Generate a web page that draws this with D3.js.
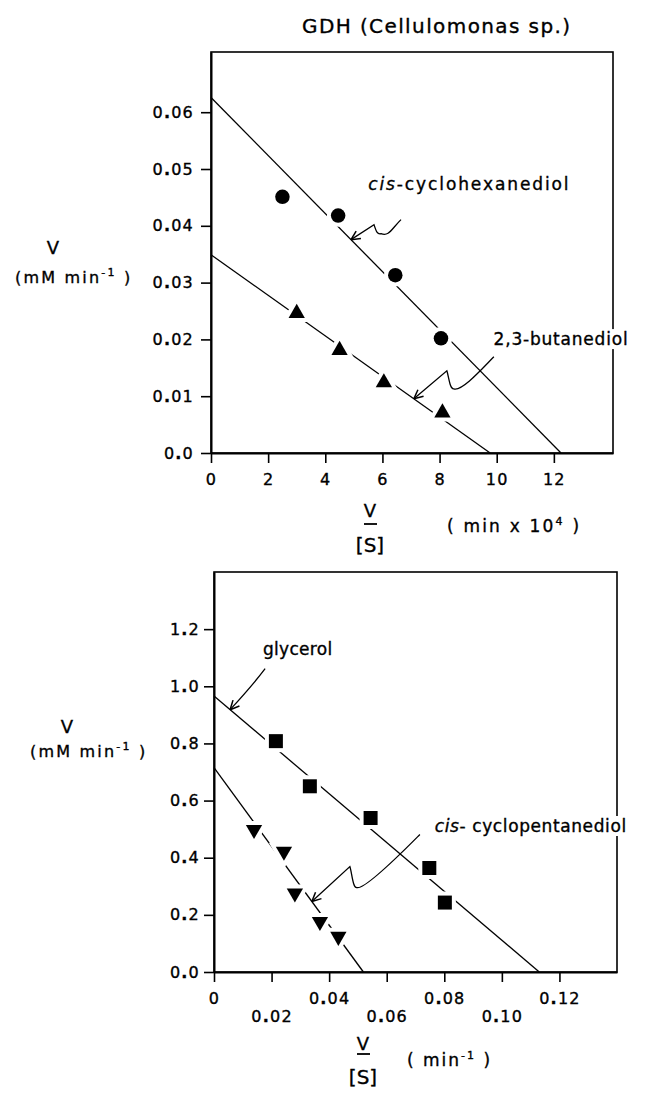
<!DOCTYPE html>
<html>
<head>
<meta charset="utf-8">
<script src="https://cdn.jsdelivr.net/npm/d3@7"></script>
<style>
  body { margin: 0; background: #fff; }
  text { font-family: "DejaVu Sans", sans-serif; fill: #000; stroke: #000; stroke-width: 0.35px; }
</style>
</head>
<body>
<svg id="chart" width="655" height="1093"></svg>
<script>
"use strict";
// top panel: V/[S] (min x 10^4) vs V (mM min-1)
const TOP_X_TICKS = [0, 2, 4, 6, 8, 10, 12];
const TOP_X_LABELS = ["0", "2", "4", "6", "8", "10", "12"];
const TOP_Y_TICKS = [0, 0.01, 0.02, 0.03, 0.04, 0.05, 0.06];
const TOP_Y_LABELS = ["0.0", "0.01", "0.02", "0.03", "0.04", "0.05", "0.06"];
const CYCLOHEXANEDIOL = [[2.5, 0.0451], [4.45, 0.0418], [6.45, 0.0313], [8.05, 0.0202]];
const CYCLOHEXANEDIOL_FIT = [[0, 0.0626], [12.25, 0]];
const BUTANEDIOL = [[3.0, 0.0246], [4.5, 0.0181], [6.05, 0.0124], [8.1, 0.0071]];
const BUTANEDIOL_FIT = [[0, 0.0349], [9.77, 0]];

// bottom panel: V/[S] (min-1) vs V (mM min-1)
const BOTTOM_X_TICKS = [0, 0.02, 0.04, 0.06, 0.08, 0.10, 0.12];
const BOTTOM_X_LABELS = ["0", "0.02", "0.04", "0.06", "0.08", "0.10", "0.12"];
const BOTTOM_Y_TICKS = [0, 0.2, 0.4, 0.6, 0.8, 1.0, 1.2];
const BOTTOM_Y_LABELS = ["0.0", "0.2", "0.4", "0.6", "0.8", "1.0", "1.2"];
const GLYCEROL = [[0.0215, 0.808], [0.0333, 0.650], [0.0544, 0.539], [0.0748, 0.364], [0.0802, 0.243]];
const GLYCEROL_FIT = [[0, 0.966], [0.113, 0]];
const CYCLOPENTANEDIOL = [[0.0139, 0.498], [0.0243, 0.422], [0.0281, 0.276], [0.0368, 0.176], [0.0432, 0.124]];
const CYCLOPENTANEDIOL_FIT = [[0, 0.715], [0.0519, 0]];

const svg = d3.select("#chart");

// title
svg.append("text")
    .attr("x", 302).attr("y", 33)
    .style("font-size", "20px")
    .style("letter-spacing", "1.4px")
    .text("GDH (Cellulomonas sp.)");

// "0.06" with a heavy decimal dot, like the lettering guide
function dottedLabel(sel, label) {
  sel.text(null);
  let parts = label.split(".");
  sel.append("tspan").text(parts[0]);
  if (parts.length > 1) {
    sel.append("tspan").style("font-weight", "bold").text(".");
    sel.append("tspan").text(parts[1]);
  }
}

function lineValue(fit, xv) {
  let [a, b] = fit;
  return a[1] + (b[1] - a[1]) * (xv - a[0]) / (b[0] - a[0]);
}

function drawPanel(cfg) {
  let g = svg.append("g");
  let x = d3.scaleLinear().domain(cfg.xDomain).range(cfg.xRange);
  let y = d3.scaleLinear().domain(cfg.yDomain).range(cfg.yRange);

  // frame
  g.append("rect")
      .attr("x", x.range()[0]).attr("y", y.range()[1])
      .attr("width", x.range()[1] - x.range()[0])
      .attr("height", y.range()[0] - y.range()[1])
      .style("fill", "none").style("stroke", "#000").style("stroke-width", 1.6);

  // y axis
  let yAxis = d3.axisLeft(y).tickValues(cfg.yTicks).tickSize(10).tickSizeOuter(0)
      .tickPadding(cfg.yPad).tickFormat((d, i) => cfg.yLabels[i]);
  let ya = g.append("g").attr("transform", `translate(${x.range()[0]},0)`).call(yAxis);
  ya.select(".domain").style("stroke-width", 2);
  ya.selectAll(".tick line").style("stroke-width", 1.6);
  ya.selectAll(".tick text")
      .style("font-size", "16px").style("letter-spacing", "1.2px")
      .style("font-family", '"DejaVu Sans", sans-serif')
      .each(function(d, i) { dottedLabel(d3.select(this), cfg.yLabels[i]); });

  // x axis
  let xAxis = d3.axisBottom(x).tickValues(cfg.xTicks).tickSize(10).tickSizeOuter(0)
      .tickPadding(8).tickFormat((d, i) => cfg.xLabels[i]);
  let xa = g.append("g").attr("transform", `translate(0,${y.range()[0]})`).call(xAxis);
  xa.select(".domain").style("stroke-width", 2);
  xa.selectAll(".tick line").style("stroke-width", 1.6);
  xa.selectAll(".tick text")
      .style("font-size", "16px").style("letter-spacing", "1.2px")
      .style("font-family", '"DejaVu Sans", sans-serif')
      .attr("dy", (d, i) => cfg.staggerX && i % 2 == 1 ? "2.0em" : "0.85em")
      .each(function(d, i) { dottedLabel(d3.select(this), cfg.xLabels[i]); });

  // fitted lines
  let line = d3.line().x(d => x(d[0])).y(d => y(d[1]));
  cfg.series.forEach(s => {
    g.append("path").attr("d", line(s.fit))
        .style("fill", "none").style("stroke", "#000").style("stroke-width", 1.3);
  });

  // markers, white halo breaks the line around each point
  cfg.series.forEach(s => {
    g.append("g").selectAll("path")
        .data(s.points)
        .enter()
        .append("path")
        .attr("d", d3.symbol().type(s.symbol).size(s.size))
        .attr("transform", d => `translate(${x(d[0])},${y(d[1])}) rotate(${s.rotate || 0})`)
        .style("fill", "#000")
        .style("stroke", "#fff")
        .style("stroke-width", 8)
        .style("paint-order", "stroke");
  });

  // annotations: label + squiggly arrow to a point on the fitted line
  cfg.notes.forEach(n => {
    let tx = x(n.tipX), ty = y(lineValue(n.fit, n.tipX));
    let pts = n.shape.map(p => [tx + p[0], ty + p[1]]);
    let path, prev;
    if (pts.length == 1) {
      prev = [pts[0][0] - 12, pts[0][1] + 16];
      path = `M${pts[0]} Q${prev} ${tx},${ty}`;
    } else {
      let [tail, bottom, hump] = pts;
      prev = hump;
      path = `M${tail} C${tail[0] - 10},${tail[1] + 10} ${bottom[0] + 8},${bottom[1] + 3} ${bottom}` +
             ` C${bottom[0] - 4},${bottom[1] + 1} ${hump[0] + 2},${hump[1] + 6} ${hump} L${tx},${ty}`;
    }
    g.append("path").attr("d", path)
        .style("fill", "none").style("stroke", "#000").style("stroke-width", 1.3);
    // open arrowhead
    let ang = Math.atan2(prev[1] - ty, prev[0] - tx);
    [-0.45, 0.45].forEach(da => {
      g.append("line")
          .attr("x1", tx).attr("y1", ty)
          .attr("x2", tx + 10 * Math.cos(ang + da))
          .attr("y2", ty + 10 * Math.sin(ang + da))
          .style("stroke", "#000").style("stroke-width", 1.5);
    });

    let bg = g.append("rect").style("fill", "#fff");
    let t = g.append("text")
        .attr("x", x(n.labelAt[0])).attr("y", y(n.labelAt[1]))
        .style("font-size", "17px").style("letter-spacing", n.spacing + "px");
    if (n.italic) t.append("tspan").style("font-style", "italic").text(n.italic);
    t.append("tspan").text(n.text);
    let bb = t.node().getBBox();
    bg.attr("x", bb.x - 2).attr("y", bb.y).attr("width", bb.width + 4).attr("height", bb.height);
  });
  return { x, y };
}

drawPanel({
  xDomain: [0, 14.07], xRange: [211, 613],
  yDomain: [0, 0.0706], yRange: [453, 52],
  xTicks: TOP_X_TICKS, xLabels: TOP_X_LABELS,
  yTicks: TOP_Y_TICKS, yLabels: TOP_Y_LABELS, yPad: 7,
  staggerX: false,
  series: [
    { points: CYCLOHEXANEDIOL, fit: CYCLOHEXANEDIOL_FIT, symbol: d3.symbolCircle, size: 165 },
    { points: BUTANEDIOL, fit: BUTANEDIOL_FIT, symbol: d3.symbolTriangle, size: 115 }
  ],
  notes: [
    { italic: "cis", text: "-cyclohexanediol", labelAt: [5.5, 0.0463], spacing: 1.9,
      fit: CYCLOHEXANEDIOL_FIT, tipX: 4.9, shape: [[50, -20], [30, -6], [23, -15]] },
    { text: "2,3-butanediol", labelAt: [9.89, 0.019], spacing: 0.8,
      fit: BUTANEDIOL_FIT, tipX: 7.1, shape: [[80, -42], [40, -10], [33, -28]] }
  ]
});

drawPanel({
  xDomain: [0, 0.14], xRange: [214, 617],
  yDomain: [0, 1.4], yRange: [972, 572],
  xTicks: BOTTOM_X_TICKS, xLabels: BOTTOM_X_LABELS,
  yTicks: BOTTOM_Y_TICKS, yLabels: BOTTOM_Y_LABELS, yPad: 4,
  staggerX: true,
  series: [
    { points: GLYCEROL, fit: GLYCEROL_FIT, symbol: d3.symbolSquare, size: 196 },
    { points: CYCLOPENTANEDIOL, fit: CYCLOPENTANEDIOL_FIT, symbol: d3.symbolTriangle, size: 115, rotate: 180 }
  ],
  notes: [
    { text: "glycerol", labelAt: [0.017, 1.11], spacing: 0.3,
      fit: GLYCEROL_FIT, tipX: 0.0056, shape: [[35, -41]] },
    { italic: "cis", text: "- cyclopentanediol", labelAt: [0.0767, 0.49], spacing: 0.6,
      fit: CYCLOPENTANEDIOL_FIT, tipX: 0.034, shape: [[108, -67], [45, -14], [38, -35]] }
  ]
});

// y axis titles
function yTitle(vx, vy, px, py) {
  svg.append("text").attr("x", vx).attr("y", vy).attr("text-anchor", "middle")
      .style("font-size", "18px").text("V");
  let t = svg.append("text").attr("x", px).attr("y", py)
      .style("font-size", "16px").style("letter-spacing", "2.2px");
  t.append("tspan").text("(mM min");
  t.append("tspan").attr("dy", -7).style("font-size", "11px").text("-1");
  t.append("tspan").attr("dy", 7).text(" )");
}
yTitle(53, 254, 15, 283);
yTitle(67, 733, 30, 757);

// x axis titles: V over [S]
function xTitle(cx, vy, barY, sy, unitX, unitY, unit, sup, supDy, spacing) {
  svg.append("text").attr("x", cx).attr("y", vy).attr("text-anchor", "middle")
      .style("font-size", "18px").text("V");
  svg.append("line").attr("x1", cx - 6).attr("x2", cx + 7).attr("y1", barY).attr("y2", barY)
      .style("stroke", "#000").style("stroke-width", 1.8);
  svg.append("text").attr("x", cx).attr("y", sy).attr("text-anchor", "middle")
      .style("font-size", "20px").text("[S]");
  let t = svg.append("text").attr("x", unitX).attr("y", unitY)
      .style("font-size", "17px").style("letter-spacing", spacing + "px");
  t.append("tspan").text(unit);
  t.append("tspan").attr("dy", supDy).style("font-size", "11px").text(sup);
  t.append("tspan").attr("dy", -supDy).text(" )");
}
xTitle(370, 517, 524, 552, 447, 532, "( min  x  10", "4", -7, 2.2);
xTitle(363, 1050, 1054, 1084, 407, 1066, "( min", "-1", -7, 2);
</script>
</body>
</html>
